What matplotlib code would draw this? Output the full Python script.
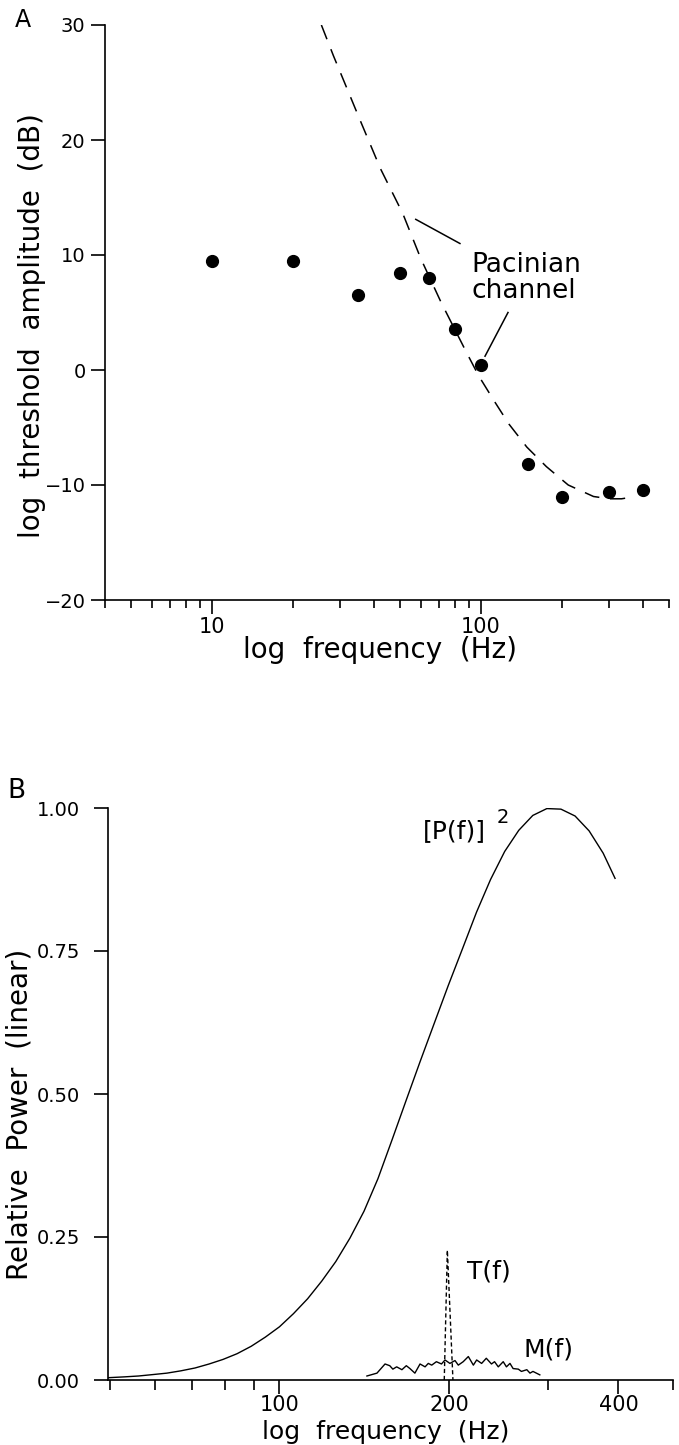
import matplotlib
matplotlib.use('Agg')
import matplotlib.pyplot as plt
from matplotlib.ticker import FixedLocator, FixedFormatter, NullFormatter

plt.rcParams['font.family'] = ['DejaVu Sans']

# ---------------- Panel A data ----------------
a_freq = [10, 20, 35, 50, 64, 80, 100, 150, 200, 300, 400]
a_thresh = [9.5, 9.5, 6.5, 8.4, 8.0, 3.6, 0.4, -8.2, -11.0, -10.6, -10.4]
a_fit_freq = [25.5, 28.3, 35.7, 42.3, 51.2, 59.7, 71, 88, 98, 112, 127, 148,
              175, 211, 262, 300, 333, 354]
a_fit_db = [30, 27.3, 21.6, 17.5, 13.6, 9.7, 5.9, 1.6, -0.5, -2.7, -4.7, -6.7,
            -8.4, -10.0, -11.0, -11.2, -11.2, -11.1]
a_yticks = [-20, -10, 0, 10, 20, 30]
a_xticks = [10, 100]
a_xticklabels = ['10', '100']
a_xminor = [4, 5, 6, 7, 8, 9, 20, 30, 40, 50, 60, 70, 80, 90, 200, 300, 400, 500]

# ---------------- Panel B data ----------------
b_p2_freq = [49.6, 53.1, 56.2, 59.6, 63.1, 66.8, 70.8, 75.0, 79.4, 84.1, 89.1,
             94.4, 100, 105.9, 112.2, 118.9, 125.9, 133.4, 141.3, 149.6, 158.5,
             167.9, 177.8, 188.4, 199.5, 211.4, 223.9, 237.1, 251.2, 266.1,
             281.8, 298.5, 316.2, 335.0, 354.8, 375.8, 394.5]
b_p2_val = [0.004, 0.0055, 0.007, 0.0095, 0.012, 0.016, 0.021, 0.028, 0.036,
            0.046, 0.059, 0.075, 0.093, 0.116, 0.142, 0.173, 0.207, 0.248,
            0.295, 0.352, 0.420, 0.489, 0.557, 0.624, 0.690, 0.754, 0.818,
            0.875, 0.924, 0.961, 0.987, 0.999, 0.998, 0.986, 0.960, 0.921, 0.877]
b_t_freq = [196.2, 198.7, 203.3]
b_t_val = [0.0, 0.227, 0.0]
b_m_freq = [143, 149, 154, 157, 159, 161.5, 165, 168, 170.5, 174, 177.7, 181.4,
            183.8, 186.4, 190, 194, 196.8, 200.8, 205, 207.8, 212, 216.5, 221,
            224, 228.6, 233, 238, 241, 244.7, 249.7, 253, 256.7, 260, 265.6, 269,
            275, 278.6, 282, 290]
b_m_val = [0.007, 0.012, 0.028, 0.025, 0.019, 0.023, 0.018, 0.025, 0.020, 0.012,
           0.028, 0.023, 0.029, 0.026, 0.032, 0.028, 0.035, 0.029, 0.034, 0.026,
           0.032, 0.041, 0.026, 0.035, 0.029, 0.038, 0.028, 0.032, 0.023, 0.032,
           0.023, 0.029, 0.020, 0.019, 0.015, 0.018, 0.012, 0.015, 0.009]
b_yticks = [0.0, 0.25, 0.50, 0.75, 1.00]
b_yticklabels = ['0.00', '0.25', '0.50', '0.75', '1.00']
b_xticks = [100, 200, 400]
b_xticklabels = ['100', '200', '400']
b_xminor = [50, 60, 70, 80, 90, 300, 500]

W, H = 679, 1445
fig = plt.figure(figsize=(W / 100, H / 100), dpi=100)


def style_axes(ax):
    for s in ['top', 'right']:
        ax.spines[s].set_visible(False)
    for s in ['left', 'bottom']:
        ax.spines[s].set_linewidth(1.2)
        ax.spines[s].set_color('black')


# ---------------- Panel A ----------------
axA = fig.add_axes([105 / W, 1 - 600 / H, 564 / W, 575 / H])
style_axes(axA)
axA.set_xscale('log')
axA.plot(a_fit_freq, a_fit_db, color='black', lw=1.1, dashes=(10, 7))
axA.plot(a_freq, a_thresh, 'o', color='black', ms=8.5)
axA.set_xlim(4, 500)
axA.set_ylim(-20, 30)
axA.yaxis.set_major_locator(FixedLocator(a_yticks))
axA.xaxis.set_major_locator(FixedLocator(a_xticks))
axA.xaxis.set_major_formatter(FixedFormatter(a_xticklabels))
axA.xaxis.set_minor_locator(FixedLocator(a_xminor))
axA.xaxis.set_minor_formatter(NullFormatter())
axA.tick_params(axis='y', which='major', direction='out', length=10, width=1.2,
                labelsize=14, pad=4)
axA.tick_params(axis='x', which='major', direction='out', length=10, width=1.2,
                labelsize=15, pad=2)
axA.tick_params(axis='x', which='minor', direction='out', length=6, width=1.2)

axA.text(91.8, 8.0, 'Pacinian\nchannel', fontsize=19, ha='left', va='center',
         linespacing=1.0)
axA.plot([57.2, 83.5], [13.1, 11.0], color='black', lw=1.1)
axA.plot([126, 103.5], [5.0, 1.2], color='black', lw=1.1)

fig.text(32 / W, 1 - 326 / H, 'log  threshold  amplitude  (dB)', rotation=90,
         ha='center', va='center', fontsize=20)
fig.text(380 / W, 1 - 658 / H, 'log  frequency  (Hz)', ha='center',
         va='baseline', fontsize=20)
fig.text(15 / W, 1 - 8 / H, 'A', ha='left', va='top', fontsize=17)

# ---------------- Panel B ----------------
axB = fig.add_axes([108 / W, 1 - 1380 / H, 565 / W, 572 / H])
style_axes(axB)
axB.set_xscale('log')
axB.plot(b_p2_freq, b_p2_val, color='black', lw=1.0)
axB.plot(b_t_freq, b_t_val, color='black', lw=1.0, dashes=(3, 2))
axB.plot(b_m_freq, b_m_val, color='black', lw=1.0)
axB.set_xlim(49.6, 500)
axB.set_ylim(0, 1.0)
axB.yaxis.set_major_locator(FixedLocator(b_yticks))
axB.yaxis.set_major_formatter(FixedFormatter(b_yticklabels))
axB.xaxis.set_major_locator(FixedLocator(b_xticks))
axB.xaxis.set_major_formatter(FixedFormatter(b_xticklabels))
axB.xaxis.set_minor_locator(FixedLocator(b_xminor))
axB.xaxis.set_minor_formatter(NullFormatter())
axB.tick_params(axis='y', which='major', direction='out', length=10, width=1.2,
                labelsize=14, pad=10)
axB.tick_params(axis='x', which='major', direction='out', length=10, width=1.2,
                labelsize=15, pad=1)
axB.tick_params(axis='x', which='minor', direction='out', length=7, width=1.2)

axB.text(179.8, 0.96, '[P(f)]', fontsize=18, ha='left', va='center')
axB.text(243, 0.984, '2', fontsize=14, ha='left', va='center')
axB.text(215, 0.19, 'T(f)', fontsize=18, ha='left', va='center')
axB.text(271, 0.054, 'M(f)', fontsize=18, ha='left', va='center')

fig.text(20 / W, 1 - 1114 / H, 'Relative  Power  (linear)', rotation=90,
         ha='center', va='center', fontsize=20)
fig.text(386 / W, 1 / H, 'log  frequency  (Hz)', ha='center',
         va='bottom', fontsize=18)
fig.text(7 / W, 1 - 778 / H, 'B', ha='left', va='top', fontsize=19)

fig.savefig('out.png', dpi=100, facecolor='white')
